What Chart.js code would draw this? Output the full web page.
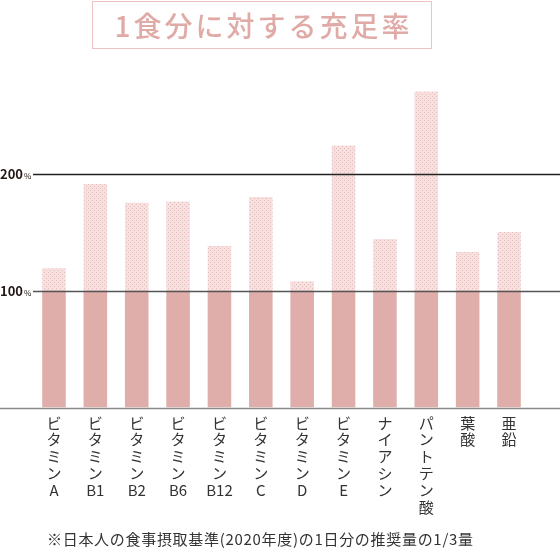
<!DOCTYPE html>
<html><head><meta charset="utf-8">
<script src="https://cdn.jsdelivr.net/npm/chart.js@4/dist/chart.umd.min.js"></script>
<style>
html,body{margin:0;padding:0;background:#fff;}
#wrap{position:relative;width:560px;height:549px;overflow:hidden;}
#c{position:absolute;left:0;top:0;}
#title{position:absolute;left:92px;top:1px;width:338px;height:46px;border:1.5px solid #ebc3c0;box-sizing:content-box;
  font-family:"Noto Sans CJK JP","Noto Sans",sans-serif;font-size:28px;font-weight:500;color:#e0aba7;letter-spacing:3px;
  text-indent:3px;text-align:center;line-height:46px;}
#note{position:absolute;left:47px;top:530px;font-family:"Noto Sans CJK JP","Noto Sans",sans-serif;font-size:15px;color:#333;white-space:nowrap;line-height:18px;letter-spacing:0.7px;}
</style></head>
<body><div id="wrap">
<canvas id="c" width="560" height="549"></canvas>
<div id="title">1食分に対する充足率</div>
<div id="note">※日本人の食事摂取基準(2020年度)の1日分の推奨量の1/3量</div>
</div>
<script>
const categories = ['ビタミンA','ビタミンB1','ビタミンB2','ビタミンB6','ビタミンB12','ビタミンC','ビタミンD','ビタミンE','ナイアシン','パントテン酸','葉酸','亜鉛'];
const tickLabels = [
  ['ビ','タ','ミ','ン','A'],
  ['ビ','タ','ミ','ン','B1'],
  ['ビ','タ','ミ','ン','B2'],
  ['ビ','タ','ミ','ン','B6'],
  ['ビ','タ','ミ','ン','B12'],
  ['ビ','タ','ミ','ン','C'],
  ['ビ','タ','ミ','ン','D'],
  ['ビ','タ','ミ','ン','E'],
  ['ナ','イ','ア','シ','ン'],
  ['パ','ン','ト','テ','ン','酸'],
  ['葉','酸'],
  ['亜','鉛']
];
const values = [119, 191, 175, 176, 138, 180, 108, 224, 144, 270, 133, 150];
const yTicks = [100, 200];

const baseValues = values.map(v => Math.min(v, 100));
const extraValues = values.map(v => Math.max(v - 100, 0));

function makePattern(){
  const p = document.createElement('canvas');
  p.width = 4; p.height = 4;
  const g = p.getContext('2d');
  g.fillStyle = '#f6e1e0';
  g.fillRect(0,0,4,4);
  g.fillStyle = '#e7bcbb';
  g.fillRect(0,0,1,1);
  g.fillRect(2,2,1,1);
  return document.getElementById('c').getContext('2d').createPattern(p,'repeat');
}

const linesPlugin = {
  id: 'lines',
  afterDatasetsDraw(chart){
    const ctx = chart.ctx, y = chart.scales.y, W = chart.width;
    ctx.save();
    const y0 = Math.round(y.getPixelForValue(0)) + 0.5;
    ctx.strokeStyle = '#8a8a8a'; ctx.lineWidth = 1.5;
    ctx.beginPath(); ctx.moveTo(0, y0); ctx.lineTo(W, y0); ctx.stroke();
    yTicks.forEach(t => {
      const py = Math.round(y.getPixelForValue(t)) + 0.5;
      ctx.strokeStyle = t === 100 ? '#555' : '#222';
      ctx.lineWidth = 1.3;
      ctx.beginPath(); ctx.moveTo(33, py); ctx.lineTo(W, py); ctx.stroke();
      ctx.fillStyle = '#231815';
      ctx.textBaseline = 'middle';
      ctx.font = 'bold 13px "Noto Sans CJK JP", "Noto Sans", sans-serif';
      const s = String(t);
      ctx.fillText(s, 0, py);
      const w = ctx.measureText(s).width;
      ctx.font = '8px "Noto Sans CJK JP", "Noto Sans", sans-serif';
      ctx.fillText('%', w + 1, py + 1.5);
    });
    ctx.restore();
  }
};

new Chart(document.getElementById('c'), {
  type: 'bar',
  data: {
    labels: tickLabels,
    datasets: [
      { label: '100%まで', data: baseValues, backgroundColor: '#dfaeaa', borderWidth: 0 },
      { label: '超過分', data: extraValues, backgroundColor: makePattern(), borderWidth: 0 }
    ]
  },
  options: {
    responsive: false,
    animation: false,
    devicePixelRatio: 1,
    layout: { padding: { left: 33.3, right: 30.3, top: 56.5, bottom: 0 } },
    plugins: { legend: { display: false }, tooltip: { enabled: false }, title: { display: false } },
    scales: {
      x: {
        stacked: true,
        grid: { display: false, drawTicks: false },
        border: { display: false },
        ticks: {
          color: '#333',
          padding: 7,
          autoSkip: false,
          maxRotation: 0,
          font: { family: '"Noto Sans CJK JP", "Noto Sans", sans-serif', size: 15, lineHeight: 1.12 }
        },
        afterFit(scale){ scale.height = 141.5; }
      },
      y: {
        stacked: true,
        display: false,
        min: 0,
        max: 300
      }
    },
    datasets: { bar: { categoryPercentage: 1, barPercentage: 0.57 } }
  },
  plugins: [linesPlugin]
});
</script>
</body></html>
